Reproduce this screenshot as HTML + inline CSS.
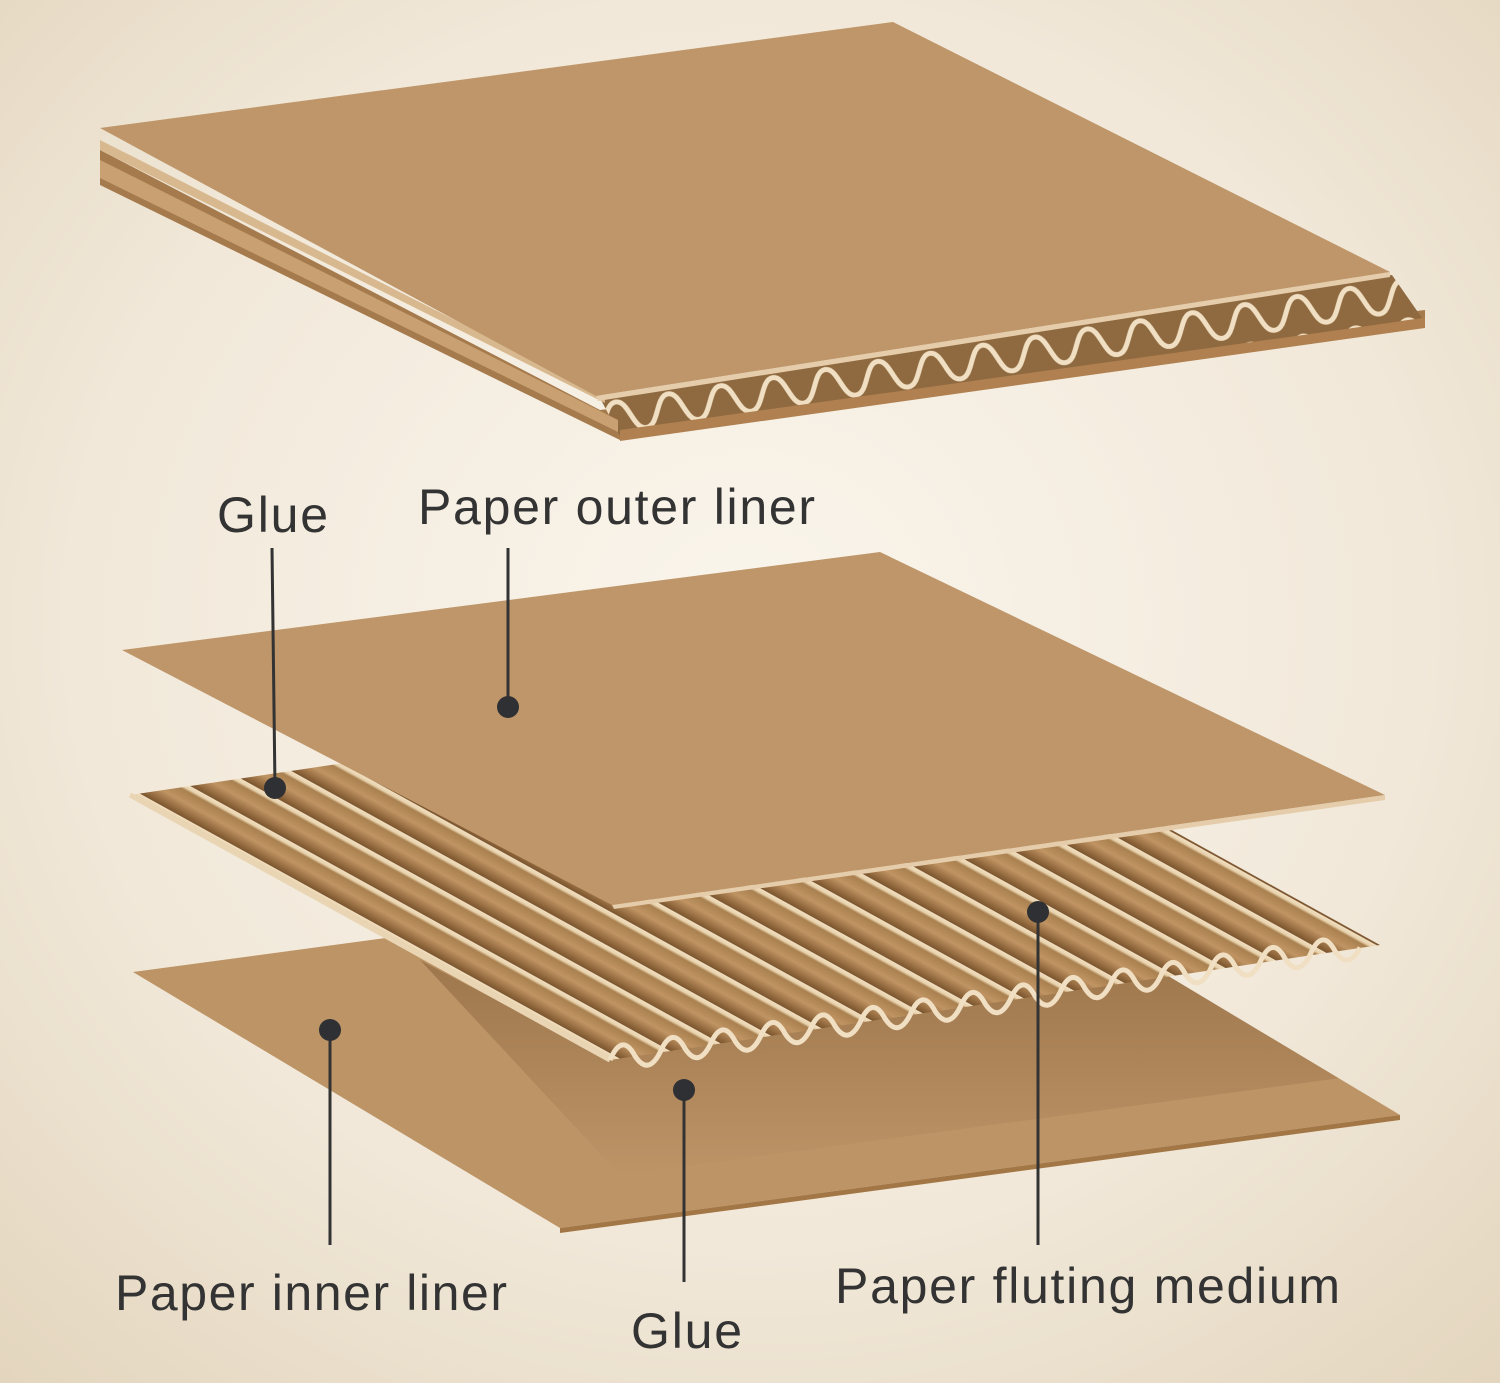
<!DOCTYPE html>
<html><head><meta charset="utf-8"><style>body{margin:0}svg{display:block}</style></head><body>
<svg width="1500" height="1383" viewBox="0 0 1500 1383" xmlns="http://www.w3.org/2000/svg">
<defs>
<radialGradient id="bg" cx="0.5" cy="0.45" r="0.75">
<stop offset="0" stop-color="#faf5ec"/><stop offset="0.6" stop-color="#f1e8d9"/><stop offset="1" stop-color="#e3d5bd"/></radialGradient>
<linearGradient id="rg" x1="0" y1="0" x2="0" y2="1">
<stop offset="0" stop-color="#f1dfc0"/><stop offset="0.12" stop-color="#e8d2ad"/><stop offset="0.2" stop-color="#a9804f"/><stop offset="0.55" stop-color="#c09463"/><stop offset="0.9" stop-color="#8a6238"/><stop offset="1" stop-color="#7a5530"/></linearGradient>
<pattern id="flute" patternUnits="userSpaceOnUse" width="40" height="31" patternTransform="rotate(28.9 610 1060)">
<rect width="40" height="31" fill="url(#rg)"/></pattern>
<pattern id="wave" patternUnits="userSpaceOnUse" width="53" height="40" patternTransform="translate(615 398) rotate(-8.8)">
<rect x="0" y="0" width="53" height="40" fill="#8f6a40"/>
<path d="M0 4 C13 4 13 34 26.5 34 C40 34 40 4 53 4" fill="none" stroke="#f0dfc2" stroke-width="5"/>
</pattern>
<linearGradient id="sh" x1="0" y1="0" x2="0" y2="1"><stop offset="0" stop-color="#7a5530" stop-opacity=".5"/><stop offset="1" stop-color="#7a5530" stop-opacity="0"/></linearGradient>
<clipPath id="lc"><polygon points="133,972 973,859 1400,1115 560,1228"/></clipPath>
</defs>
<rect width="1500" height="1383" fill="url(#bg)"/>

<!-- top board -->
<polygon points="100,150 100,185 620,440 1425,325 1425,310 600,410" fill="#a57a4c"/>
<polygon points="600,398 1392,275 1422,318 620,436" fill="url(#wave)"/>
<polygon points="620,430 1425,318 1425,328 620,441" fill="#b08050"/>
<polygon points="100,160 100,178 618,432 618,420" fill="#c9a071"/>
<polygon points="100,140 100,150 605,403 605,396" fill="#d8b88e"/>
<polygon points="100,128 893,22 1390,272 596,396" fill="#be9669"/>
<polygon points="596,396 1390,272 1390,277 598,401" fill="#e5ccaa"/>

<!-- inner liner -->
<polygon points="133,972 973,859 1400,1115 560,1228" fill="#bd9466"/>
<polygon points="560,1228 1400,1115 1400,1120 560,1233" fill="#a37645"/>
<polygon clip-path="url(#lc)" points="420,960 610,1060 1380,945 1400,1070 620,1175" fill="url(#sh)"/>

<!-- fluting -->
<polygon points="130,795 900,680 1380,945 610,1060" fill="url(#flute)"/>
<path d="M130 795 L610 1060" stroke="#e9d5b3" stroke-width="5"/>
<path d="M610 1060 q12 -28 25 -4 q13 20 25 -3.5 q12 -28 25 -4 q13 20 25 -3.5 q12 -28 25 -4 q13 20 25 -3.5 q12 -28 25 -4 q13 20 25 -3.5 q12 -28 25 -4 q13 20 25 -3.5 q12 -28 25 -4 q13 20 25 -3.5 q12 -28 25 -4 q13 20 25 -3.5 q12 -28 25 -4 q13 20 25 -3.5 q12 -28 25 -4 q13 20 25 -3.5 q12 -28 25 -4 q13 20 25 -3.5 q12 -28 25 -4 q13 20 25 -3.5 q12 -28 25 -4 q13 20 25 -3.5 q12 -28 25 -4 q13 20 25 -3.5 q12 -28 25 -4 q13 20 25 -3.5 q12 -28 25 -4 q13 20 25 -3.5" fill="none" stroke="#f0dfc2" stroke-width="5"/>

<!-- outer liner -->
<polygon points="122,650 880,552 1385,795 612,905" fill="#be9669"/>
<polygon points="612,905 1385,795 1385,800 614,909" fill="#e5ccaa"/>

<!-- leaders -->
<g stroke="#333" stroke-width="3">
<line x1="272" y1="548" x2="275" y2="788"/><line x1="508" y1="548" x2="508" y2="707"/>
<line x1="330" y1="1030" x2="330" y2="1245"/><line x1="684" y1="1090" x2="684" y2="1282"/>
<line x1="1038" y1="912" x2="1038" y2="1245"/></g>
<g fill="#2e3033"><circle cx="275" cy="788" r="11"/><circle cx="508" cy="707" r="11"/><circle cx="330" cy="1030" r="11"/><circle cx="684" cy="1090" r="11"/><circle cx="1038" cy="912" r="11"/></g>

<g font-family="Liberation Sans, sans-serif" font-size="50" fill="#333">
<text x="217" y="532" textLength="111">Glue</text><text x="418" y="524" textLength="397">Paper outer liner</text>
<text x="115" y="1310" textLength="392">Paper inner liner</text><text x="631" y="1348" textLength="111">Glue</text>
<text x="835" y="1303" textLength="505">Paper fluting medium</text></g>
</svg>
</body></html>
